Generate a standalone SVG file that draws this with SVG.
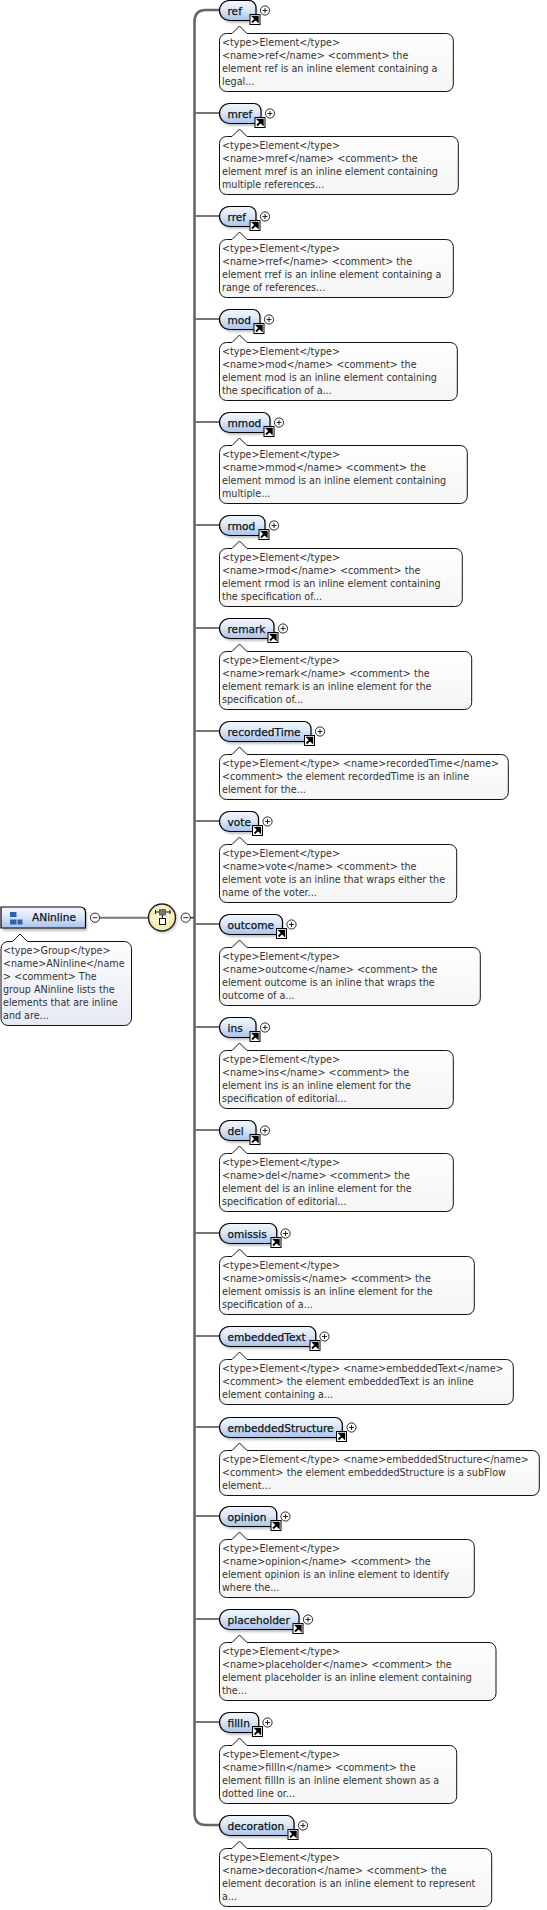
<svg xmlns="http://www.w3.org/2000/svg" width="547" height="1910" viewBox="0 0 547 1910">
<style>
.pill{fill:url(#pg);stroke:#000;stroke-width:1.2}
.shadow{fill:#777;opacity:.45;filter:url(#bl)}
.cm{fill:url(#cg);stroke:#111;stroke-width:1}
.cmg{fill:url(#cb);stroke:#111;stroke-width:1}
.lb{font-family:"DejaVu Sans",sans-serif;font-size:10.6px;fill:#0a1420;stroke:#0a1420;stroke-width:.25}
.tx{font-family:"DejaVu Sans",sans-serif;font-size:9.6px;fill:#333}
.cn{fill:none;stroke:#777;stroke-width:2}
.tr{fill:none;stroke:#666;stroke-width:2.6}
.pm{fill:#fff;stroke:#111;stroke-width:.9}
.gl{stroke:#111;stroke-width:.9}
</style>
<defs>
<linearGradient id="pg" x1="0" y1="0" x2="0" y2="1"><stop offset="0" stop-color="#f2f6fc"/><stop offset=".45" stop-color="#dce7f7"/><stop offset="1" stop-color="#a9c3ea"/></linearGradient>
<linearGradient id="cg" x1="0" y1="0" x2="0" y2="1"><stop offset="0" stop-color="#fff"/><stop offset="1" stop-color="#f5f5f5"/></linearGradient>
<linearGradient id="cb" x1="0" y1="0" x2="0" y2="1"><stop offset="0" stop-color="#fff"/><stop offset="1" stop-color="#e6eaf3"/></linearGradient>
<radialGradient id="yg" cx=".5" cy=".45" r=".6"><stop offset="0" stop-color="#fffde0"/><stop offset="1" stop-color="#efe6a8"/></radialGradient>
<filter id="bl" x="-10%" y="-30%" width="120%" height="160%"><feGaussianBlur stdDeviation="1"/></filter>
<g id="plus"><circle cx="0" cy="0" r="4.6" class="pm"/><path d="M-2.5 0H2.5M0-2.5V2.5" class="gl"/></g>
<g id="minus"><circle cx="0" cy="0" r="4.6" class="pm"/><path d="M-2.5 0H2.5" class="gl"/></g>
<g id="link"><rect x=".5" y=".5" width="10" height="10" fill="#fff" stroke="#000"/><path d="M2.5 8.5L6.5 4.5M3.6 2.7H8.3V7.4Z" stroke="#000" stroke-width="1.8" fill="#000"/></g>
</defs>
<g id="connectors">
<path class="tr" d="M219 10H206Q194.5 10 194.5 22V1813Q194.5 1825 206 1825H219"/>
<path class="cn" d="M195 113H219M195 216H219M195 319H219M195 422H219M195 525H219M195 628H219M195 731H219M195 821H219M195 924H219M195 1027H219M195 1130H219M195 1233H219M195 1336H219M195 1427H219M195 1516H219M195 1619H219M195 1722H219"/>
<path class="cn" d="M100 917.7H148"/>
<path d="M190 917.7H194" stroke="#333" stroke-width="1.5" fill="none"/>
</g>
<g id="ANinline">
<path class="shadow" d="M3 909H82A5 5 0 0 1 87 914V931H3Z"/>
<path class="pill" d="M1 907H80.500A5 5 0 0 1 85.500 912V928H1Z"/>
<rect x="10" y="912" width="6.500" height="5" fill="#2a62b4"/><rect x="10" y="919.500" width="6.500" height="5" fill="#2a62b4"/><rect x="17.500" y="919.500" width="5" height="5" fill="#2a62b4"/>
<text class="lb" x="32" y="921">ANinline</text>
<use href="#minus" x="95" y="917.700"/>
<path class="cmg" d="M8 941.500H12.500L20 934L27.500 941.500H124.500a7 7 0 0 1 7 7V1018.500a7 7 0 0 1 -7 7H8a7 7 0 0 1 -7 -7V948.500a7 7 0 0 1 7 -7Z"/>
<text class="tx" x="3" y="954">&lt;type&gt;Group&lt;/type&gt;</text>
<text class="tx" x="3" y="967">&lt;name&gt;ANinline&lt;/name</text>
<text class="tx" x="3" y="980">&gt; &lt;comment&gt; The</text>
<text class="tx" x="3" y="993">group ANinline lists the</text>
<text class="tx" x="3" y="1006">elements that are inline</text>
<text class="tx" x="3" y="1019">and are...</text>
</g>
<g id="compositor">
<circle cx="163" cy="919" r="14" fill="#777" opacity=".45" filter="url(#bl)"/>
<circle cx="162" cy="917.500" r="13.500" fill="url(#yg)" stroke="#222" stroke-width="1.400"/>
<path d="M155 912H170.500M155.500 910V914M170 910V914M162.500 915V918.500" stroke="#111" stroke-width="1" fill="none"/>
<rect x="159.500" y="909.500" width="6" height="5.500" fill="#777" stroke="#555" stroke-width=".8"/>
<rect x="159.500" y="918.500" width="6" height="6" fill="#fff" stroke="#111" stroke-width="1"/>
<use href="#minus" x="185.700" y="917.700"/>
</g>
<g id="ref" transform="translate(0,0)">
<path class="shadow" d="M231 2.500H250A7 7 0 0 1 257 9.500V23H231A10 10 0 0 1 231 2.500Z"/>
<path class="pill" d="M229.500 .5H249A7 7 0 0 1 256 7.500V20.500H229.500A10 10 0 0 1 229.500 .5Z"/>
<text class="lb" x="227.500" y="14.500">ref</text>
<use href="#link" x="249.500" y="14"/><use href="#plus" x="265" y="10.500"/>
<path class="cm" d="M226.500 33.500H232L239.500 26L247 33.500H446.300a7 7 0 0 1 7 7V84.500a7 7 0 0 1 -7 7H226.500a7 7 0 0 1 -7 -7V40.500a7 7 0 0 1 7 -7Z"/>
<text class="tx" x="222" y="46">&lt;type&gt;Element&lt;/type&gt;</text><text class="tx" x="222" y="59">&lt;name&gt;ref&lt;/name&gt; &lt;comment&gt; the</text><text class="tx" x="222" y="72">element ref is an inline element containing a</text><text class="tx" x="222" y="85">legal...</text>
</g>
<g id="mref" transform="translate(0,103)">
<path class="shadow" d="M231 2.500H255A7 7 0 0 1 262 9.500V23H231A10 10 0 0 1 231 2.500Z"/>
<path class="pill" d="M229.500 .5H254A7 7 0 0 1 261 7.500V20.500H229.500A10 10 0 0 1 229.500 .5Z"/>
<text class="lb" x="227.500" y="14.500">mref</text>
<use href="#link" x="254.500" y="14"/><use href="#plus" x="270" y="10.500"/>
<path class="cm" d="M226.500 33.500H232L239.500 26L247 33.500H451.300a7 7 0 0 1 7 7V84.500a7 7 0 0 1 -7 7H226.500a7 7 0 0 1 -7 -7V40.500a7 7 0 0 1 7 -7Z"/>
<text class="tx" x="222" y="46">&lt;type&gt;Element&lt;/type&gt;</text><text class="tx" x="222" y="59">&lt;name&gt;mref&lt;/name&gt; &lt;comment&gt; the</text><text class="tx" x="222" y="72">element mref is an inline element containing</text><text class="tx" x="222" y="85">multiple references...</text>
</g>
<g id="rref" transform="translate(0,206)">
<path class="shadow" d="M231 2.500H250A7 7 0 0 1 257 9.500V23H231A10 10 0 0 1 231 2.500Z"/>
<path class="pill" d="M229.500 .5H249A7 7 0 0 1 256 7.500V20.500H229.500A10 10 0 0 1 229.500 .5Z"/>
<text class="lb" x="227.500" y="14.500">rref</text>
<use href="#link" x="249.500" y="14"/><use href="#plus" x="265" y="10.500"/>
<path class="cm" d="M226.500 33.500H232L239.500 26L247 33.500H446.300a7 7 0 0 1 7 7V84.500a7 7 0 0 1 -7 7H226.500a7 7 0 0 1 -7 -7V40.500a7 7 0 0 1 7 -7Z"/>
<text class="tx" x="222" y="46">&lt;type&gt;Element&lt;/type&gt;</text><text class="tx" x="222" y="59">&lt;name&gt;rref&lt;/name&gt; &lt;comment&gt; the</text><text class="tx" x="222" y="72">element rref is an inline element containing a</text><text class="tx" x="222" y="85">range of references...</text>
</g>
<g id="mod" transform="translate(0,309)">
<path class="shadow" d="M231 2.500H254A7 7 0 0 1 261 9.500V23H231A10 10 0 0 1 231 2.500Z"/>
<path class="pill" d="M229.500 .5H253A7 7 0 0 1 260 7.500V20.500H229.500A10 10 0 0 1 229.500 .5Z"/>
<text class="lb" x="227.500" y="14.500">mod</text>
<use href="#link" x="253.500" y="14"/><use href="#plus" x="269" y="10.500"/>
<path class="cm" d="M226.500 33.500H232L239.500 26L247 33.500H450.300a7 7 0 0 1 7 7V84.500a7 7 0 0 1 -7 7H226.500a7 7 0 0 1 -7 -7V40.500a7 7 0 0 1 7 -7Z"/>
<text class="tx" x="222" y="46">&lt;type&gt;Element&lt;/type&gt;</text><text class="tx" x="222" y="59">&lt;name&gt;mod&lt;/name&gt; &lt;comment&gt; the</text><text class="tx" x="222" y="72">element mod is an inline element containing</text><text class="tx" x="222" y="85">the specification of a...</text>
</g>
<g id="mmod" transform="translate(0,412)">
<path class="shadow" d="M231 2.500H264A7 7 0 0 1 271 9.500V23H231A10 10 0 0 1 231 2.500Z"/>
<path class="pill" d="M229.500 .5H263A7 7 0 0 1 270 7.500V20.500H229.500A10 10 0 0 1 229.500 .5Z"/>
<text class="lb" x="227.500" y="14.500">mmod</text>
<use href="#link" x="263.500" y="14"/><use href="#plus" x="279" y="10.500"/>
<path class="cm" d="M226.500 33.500H232L239.500 26L247 33.500H460.300a7 7 0 0 1 7 7V84.500a7 7 0 0 1 -7 7H226.500a7 7 0 0 1 -7 -7V40.500a7 7 0 0 1 7 -7Z"/>
<text class="tx" x="222" y="46">&lt;type&gt;Element&lt;/type&gt;</text><text class="tx" x="222" y="59">&lt;name&gt;mmod&lt;/name&gt; &lt;comment&gt; the</text><text class="tx" x="222" y="72">element mmod is an inline element containing</text><text class="tx" x="222" y="85">multiple...</text>
</g>
<g id="rmod" transform="translate(0,515)">
<path class="shadow" d="M231 2.500H259A7 7 0 0 1 266 9.500V23H231A10 10 0 0 1 231 2.500Z"/>
<path class="pill" d="M229.500 .5H258A7 7 0 0 1 265 7.500V20.500H229.500A10 10 0 0 1 229.500 .5Z"/>
<text class="lb" x="227.500" y="14.500">rmod</text>
<use href="#link" x="258.500" y="14"/><use href="#plus" x="274" y="10.500"/>
<path class="cm" d="M226.500 33.500H232L239.500 26L247 33.500H455.300a7 7 0 0 1 7 7V84.500a7 7 0 0 1 -7 7H226.500a7 7 0 0 1 -7 -7V40.500a7 7 0 0 1 7 -7Z"/>
<text class="tx" x="222" y="46">&lt;type&gt;Element&lt;/type&gt;</text><text class="tx" x="222" y="59">&lt;name&gt;rmod&lt;/name&gt; &lt;comment&gt; the</text><text class="tx" x="222" y="72">element rmod is an inline element containing</text><text class="tx" x="222" y="85">the specification of...</text>
</g>
<g id="remark" transform="translate(0,618)">
<path class="shadow" d="M231 2.500H268A7 7 0 0 1 275 9.500V23H231A10 10 0 0 1 231 2.500Z"/>
<path class="pill" d="M229.500 .5H267A7 7 0 0 1 274 7.500V20.500H229.500A10 10 0 0 1 229.500 .5Z"/>
<text class="lb" x="227.500" y="14.500">remark</text>
<use href="#link" x="267.500" y="14"/><use href="#plus" x="283" y="10.500"/>
<path class="cm" d="M226.500 33.500H232L239.500 26L247 33.500H464.700a7 7 0 0 1 7 7V84.500a7 7 0 0 1 -7 7H226.500a7 7 0 0 1 -7 -7V40.500a7 7 0 0 1 7 -7Z"/>
<text class="tx" x="222" y="46">&lt;type&gt;Element&lt;/type&gt;</text><text class="tx" x="222" y="59">&lt;name&gt;remark&lt;/name&gt; &lt;comment&gt; the</text><text class="tx" x="222" y="72">element remark is an inline element for the</text><text class="tx" x="222" y="85">specification of...</text>
</g>
<g id="recordedTime" transform="translate(0,721)">
<path class="shadow" d="M231 2.500H305A7 7 0 0 1 312 9.500V23H231A10 10 0 0 1 231 2.500Z"/>
<path class="pill" d="M229.500 .5H304A7 7 0 0 1 311 7.500V20.500H229.500A10 10 0 0 1 229.500 .5Z"/>
<text class="lb" x="227.500" y="14.500">recordedTime</text>
<use href="#link" x="304" y="14"/><use href="#plus" x="320" y="10.500"/>
<path class="cm" d="M226.500 33.500H232L239.500 26L247 33.500H501.300a7 7 0 0 1 7 7V71.500a7 7 0 0 1 -7 7H226.500a7 7 0 0 1 -7 -7V40.500a7 7 0 0 1 7 -7Z"/>
<text class="tx" x="222" y="46">&lt;type&gt;Element&lt;/type&gt; &lt;name&gt;recordedTime&lt;/name&gt;</text><text class="tx" x="222" y="59">&lt;comment&gt; the element recordedTime is an inline</text><text class="tx" x="222" y="72">element for the...</text>
</g>
<g id="vote" transform="translate(0,811)">
<path class="shadow" d="M231 2.500H252A7 7 0 0 1 259 9.500V23H231A10 10 0 0 1 231 2.500Z"/>
<path class="pill" d="M229.500 .5H251.500A7 7 0 0 1 258.500 7.500V20.500H229.500A10 10 0 0 1 229.500 .5Z"/>
<text class="lb" x="227.500" y="14.500">vote</text>
<use href="#link" x="252" y="14"/><use href="#plus" x="267.500" y="10.500"/>
<path class="cm" d="M226.500 33.500H232L239.500 26L247 33.500H449.700a7 7 0 0 1 7 7V84.500a7 7 0 0 1 -7 7H226.500a7 7 0 0 1 -7 -7V40.500a7 7 0 0 1 7 -7Z"/>
<text class="tx" x="222" y="46">&lt;type&gt;Element&lt;/type&gt;</text><text class="tx" x="222" y="59">&lt;name&gt;vote&lt;/name&gt; &lt;comment&gt; the</text><text class="tx" x="222" y="72">element vote is an inline that wraps either the</text><text class="tx" x="222" y="85">name of the voter...</text>
</g>
<g id="outcome" transform="translate(0,914)">
<path class="shadow" d="M231 2.500H276A7 7 0 0 1 283 9.500V23H231A10 10 0 0 1 231 2.500Z"/>
<path class="pill" d="M229.500 .5H275.500A7 7 0 0 1 282.500 7.500V20.500H229.500A10 10 0 0 1 229.500 .5Z"/>
<text class="lb" x="227.500" y="14.500">outcome</text>
<use href="#link" x="276" y="14"/><use href="#plus" x="291.500" y="10.500"/>
<path class="cm" d="M226.500 33.500H232L239.500 26L247 33.500H473.300a7 7 0 0 1 7 7V84.500a7 7 0 0 1 -7 7H226.500a7 7 0 0 1 -7 -7V40.500a7 7 0 0 1 7 -7Z"/>
<text class="tx" x="222" y="46">&lt;type&gt;Element&lt;/type&gt;</text><text class="tx" x="222" y="59">&lt;name&gt;outcome&lt;/name&gt; &lt;comment&gt; the</text><text class="tx" x="222" y="72">element outcome is an inline that wraps the</text><text class="tx" x="222" y="85">outcome of a...</text>
</g>
<g id="ins" transform="translate(0,1017)">
<path class="shadow" d="M231 2.500H250A7 7 0 0 1 257 9.500V23H231A10 10 0 0 1 231 2.500Z"/>
<path class="pill" d="M229.500 .5H249A7 7 0 0 1 256 7.500V20.500H229.500A10 10 0 0 1 229.500 .5Z"/>
<text class="lb" x="227.500" y="14.500">ins</text>
<use href="#link" x="249.500" y="14"/><use href="#plus" x="265" y="10.500"/>
<path class="cm" d="M226.500 33.500H232L239.500 26L247 33.500H446.300a7 7 0 0 1 7 7V84.500a7 7 0 0 1 -7 7H226.500a7 7 0 0 1 -7 -7V40.500a7 7 0 0 1 7 -7Z"/>
<text class="tx" x="222" y="46">&lt;type&gt;Element&lt;/type&gt;</text><text class="tx" x="222" y="59">&lt;name&gt;ins&lt;/name&gt; &lt;comment&gt; the</text><text class="tx" x="222" y="72">element ins is an inline element for the</text><text class="tx" x="222" y="85">specification of editorial...</text>
</g>
<g id="del" transform="translate(0,1120)">
<path class="shadow" d="M231 2.500H250A7 7 0 0 1 257 9.500V23H231A10 10 0 0 1 231 2.500Z"/>
<path class="pill" d="M229.500 .5H249A7 7 0 0 1 256 7.500V20.500H229.500A10 10 0 0 1 229.500 .5Z"/>
<text class="lb" x="227.500" y="14.500">del</text>
<use href="#link" x="249.500" y="14"/><use href="#plus" x="265" y="10.500"/>
<path class="cm" d="M226.500 33.500H232L239.500 26L247 33.500H446.300a7 7 0 0 1 7 7V84.500a7 7 0 0 1 -7 7H226.500a7 7 0 0 1 -7 -7V40.500a7 7 0 0 1 7 -7Z"/>
<text class="tx" x="222" y="46">&lt;type&gt;Element&lt;/type&gt;</text><text class="tx" x="222" y="59">&lt;name&gt;del&lt;/name&gt; &lt;comment&gt; the</text><text class="tx" x="222" y="72">element del is an inline element for the</text><text class="tx" x="222" y="85">specification of editorial...</text>
</g>
<g id="omissis" transform="translate(0,1223)">
<path class="shadow" d="M231 2.500H271A7 7 0 0 1 278 9.500V23H231A10 10 0 0 1 231 2.500Z"/>
<path class="pill" d="M229.500 .5H269.700A7 7 0 0 1 276.700 7.500V20.500H229.500A10 10 0 0 1 229.500 .5Z"/>
<text class="lb" x="227.500" y="14.500">omissis</text>
<use href="#link" x="270.500" y="14"/><use href="#plus" x="285.500" y="10.500"/>
<path class="cm" d="M226.500 33.500H232L239.500 26L247 33.500H467.300a7 7 0 0 1 7 7V84.500a7 7 0 0 1 -7 7H226.500a7 7 0 0 1 -7 -7V40.500a7 7 0 0 1 7 -7Z"/>
<text class="tx" x="222" y="46">&lt;type&gt;Element&lt;/type&gt;</text><text class="tx" x="222" y="59">&lt;name&gt;omissis&lt;/name&gt; &lt;comment&gt; the</text><text class="tx" x="222" y="72">element omissis is an inline element for the</text><text class="tx" x="222" y="85">specification of a...</text>
</g>
<g id="embeddedText" transform="translate(0,1326)">
<path class="shadow" d="M231 2.500H310A7 7 0 0 1 317 9.500V23H231A10 10 0 0 1 231 2.500Z"/>
<path class="pill" d="M229.500 .5H308.700A7 7 0 0 1 315.700 7.500V20.500H229.500A10 10 0 0 1 229.500 .5Z"/>
<text class="lb" x="227.500" y="14.500">embeddedText</text>
<use href="#link" x="309.500" y="14"/><use href="#plus" x="324.500" y="10.500"/>
<path class="cm" d="M226.500 33.500H232L239.500 26L247 33.500H506.300a7 7 0 0 1 7 7V71.500a7 7 0 0 1 -7 7H226.500a7 7 0 0 1 -7 -7V40.500a7 7 0 0 1 7 -7Z"/>
<text class="tx" x="222" y="46">&lt;type&gt;Element&lt;/type&gt; &lt;name&gt;embeddedText&lt;/name&gt;</text><text class="tx" x="222" y="59">&lt;comment&gt; the element embeddedText is an inline</text><text class="tx" x="222" y="72">element containing a...</text>
</g>
<g id="embeddedStructure" transform="translate(0,1417)">
<path class="shadow" d="M231 2.500H336A7 7 0 0 1 343 9.500V23H231A10 10 0 0 1 231 2.500Z"/>
<path class="pill" d="M229.500 .5H335.300A7 7 0 0 1 342.300 7.500V20.500H229.500A10 10 0 0 1 229.500 .5Z"/>
<text class="lb" x="227.500" y="14.500">embeddedStructure</text>
<use href="#link" x="336" y="14"/><use href="#plus" x="351.500" y="10.500"/>
<path class="cm" d="M226.500 33.500H232L239.500 26L247 33.500H532.300a7 7 0 0 1 7 7V71.500a7 7 0 0 1 -7 7H226.500a7 7 0 0 1 -7 -7V40.500a7 7 0 0 1 7 -7Z"/>
<text class="tx" x="222" y="46">&lt;type&gt;Element&lt;/type&gt; &lt;name&gt;embeddedStructure&lt;/name&gt;</text><text class="tx" x="222" y="59">&lt;comment&gt; the element embeddedStructure is a subFlow</text><text class="tx" x="222" y="72">element...</text>
</g>
<g id="opinion" transform="translate(0,1506)">
<path class="shadow" d="M231 2.500H271A7 7 0 0 1 278 9.500V23H231A10 10 0 0 1 231 2.500Z"/>
<path class="pill" d="M229.500 .5H269.700A7 7 0 0 1 276.700 7.500V20.500H229.500A10 10 0 0 1 229.500 .5Z"/>
<text class="lb" x="227.500" y="14.500">opinion</text>
<use href="#link" x="270.500" y="14"/><use href="#plus" x="285.500" y="10.500"/>
<path class="cm" d="M226.500 33.500H232L239.500 26L247 33.500H467.300a7 7 0 0 1 7 7V84.500a7 7 0 0 1 -7 7H226.500a7 7 0 0 1 -7 -7V40.500a7 7 0 0 1 7 -7Z"/>
<text class="tx" x="222" y="46">&lt;type&gt;Element&lt;/type&gt;</text><text class="tx" x="222" y="59">&lt;name&gt;opinion&lt;/name&gt; &lt;comment&gt; the</text><text class="tx" x="222" y="72">element opinion is an inline element to identify</text><text class="tx" x="222" y="85">where the...</text>
</g>
<g id="placeholder" transform="translate(0,1609)">
<path class="shadow" d="M231 2.500H293A7 7 0 0 1 300 9.500V23H231A10 10 0 0 1 231 2.500Z"/>
<path class="pill" d="M229.500 .5H292A7 7 0 0 1 299 7.500V20.500H229.500A10 10 0 0 1 229.500 .5Z"/>
<text class="lb" x="227.500" y="14.500">placeholder</text>
<use href="#link" x="292.500" y="14"/><use href="#plus" x="308" y="10.500"/>
<path class="cm" d="M226.500 33.500H232L239.500 26L247 33.500H489a7 7 0 0 1 7 7V84.500a7 7 0 0 1 -7 7H226.500a7 7 0 0 1 -7 -7V40.500a7 7 0 0 1 7 -7Z"/>
<text class="tx" x="222" y="46">&lt;type&gt;Element&lt;/type&gt;</text><text class="tx" x="222" y="59">&lt;name&gt;placeholder&lt;/name&gt; &lt;comment&gt; the</text><text class="tx" x="222" y="72">element placeholder is an inline element containing</text><text class="tx" x="222" y="85">the...</text>
</g>
<g id="fillIn" transform="translate(0,1712)">
<path class="shadow" d="M231 2.500H252A7 7 0 0 1 259 9.500V23H231A10 10 0 0 1 231 2.500Z"/>
<path class="pill" d="M229.500 .5H251.700A7 7 0 0 1 258.700 7.500V20.500H229.500A10 10 0 0 1 229.500 .5Z"/>
<text class="lb" x="227.500" y="14.500">fillIn</text>
<use href="#link" x="252" y="14"/><use href="#plus" x="267.500" y="10.500"/>
<path class="cm" d="M226.500 33.500H232L239.500 26L247 33.500H449.700a7 7 0 0 1 7 7V84.500a7 7 0 0 1 -7 7H226.500a7 7 0 0 1 -7 -7V40.500a7 7 0 0 1 7 -7Z"/>
<text class="tx" x="222" y="46">&lt;type&gt;Element&lt;/type&gt;</text><text class="tx" x="222" y="59">&lt;name&gt;fillIn&lt;/name&gt; &lt;comment&gt; the</text><text class="tx" x="222" y="72">element fillIn is an inline element shown as a</text><text class="tx" x="222" y="85">dotted line or...</text>
</g>
<g id="decoration" transform="translate(0,1815)">
<path class="shadow" d="M231 2.500H288A7 7 0 0 1 295 9.500V23H231A10 10 0 0 1 231 2.500Z"/>
<path class="pill" d="M229.500 .5H287A7 7 0 0 1 294 7.500V20.500H229.500A10 10 0 0 1 229.500 .5Z"/>
<text class="lb" x="227.500" y="14.500">decoration</text>
<use href="#link" x="287.500" y="14"/><use href="#plus" x="303" y="10.500"/>
<path class="cm" d="M226.500 33.500H232L239.500 26L247 33.500H484.700a7 7 0 0 1 7 7V84.500a7 7 0 0 1 -7 7H226.500a7 7 0 0 1 -7 -7V40.500a7 7 0 0 1 7 -7Z"/>
<text class="tx" x="222" y="46">&lt;type&gt;Element&lt;/type&gt;</text><text class="tx" x="222" y="59">&lt;name&gt;decoration&lt;/name&gt; &lt;comment&gt; the</text><text class="tx" x="222" y="72">element decoration is an inline element to represent</text><text class="tx" x="222" y="85">a...</text>
</g>
</svg>
